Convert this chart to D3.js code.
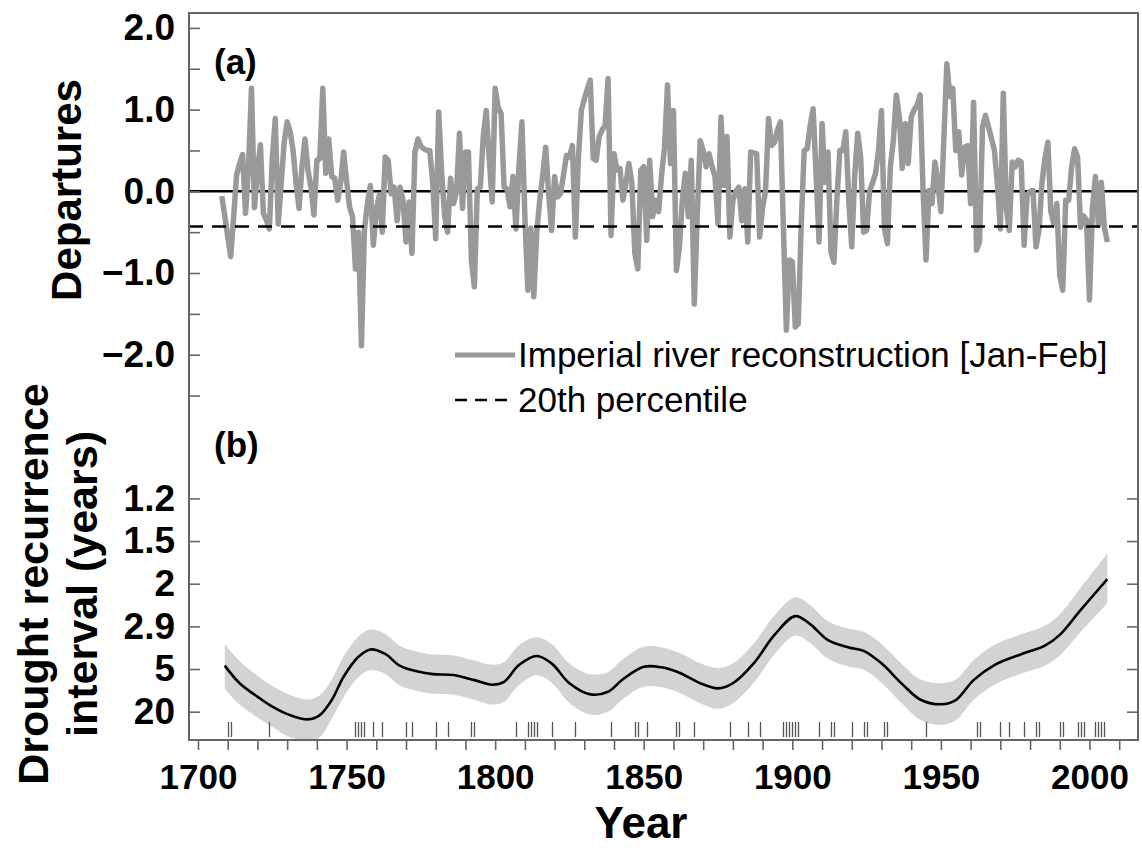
<!DOCTYPE html>
<html>
<head>
<meta charset="utf-8">
<script src="https://cdn.jsdelivr.net/npm/d3@7/dist/d3.min.js"></script>
<style>
  html, body { margin: 0; padding: 0; background: #fff; }
  svg { display: block; font-family: "Liberation Sans", Arial, Helvetica, sans-serif; }
</style>
</head>
<body>
<svg id="chart" width="1142" height="848"></svg>
<script>
// ---------------- DATA ----------------
// Panel (a): Imperial river reconstruction [Jan-Feb], annual departures, first year:
const startYear = 1708;
const departures = [
  -0.06, -0.30,                                                        // 1708-1709
  -0.55, -0.80, -0.31, 0.20, 0.34, 0.45, -0.27, 0.30, 1.26, -0.20,     // 1710s
  0.25, 0.57, -0.27, -0.35, -0.46, 0.40, 0.89, -0.40, 0.10, 0.60,      // 1720s
  0.85, 0.73, 0.50, 0.10, -0.21, 0.30, 0.64, 0.26, 0.05, -0.29,        // 1730s
  0.38, 0.40, 1.26, 0.22, 0.64, 0.18, 0.16, -0.11, 0.10, 0.48,         // 1740s
  0.13, -0.19, -0.31, -0.95, -0.50, -1.89, -0.48, -0.15, 0.07, -0.66,  // 1750s
  -0.23, -0.05, -0.50, 0.42, 0.38, -0.03, 0.05, -0.36, 0.05, -0.11,    // 1760s
  -0.62, -0.13, -0.76, 0.48, 0.64, 0.55, 0.52, 0.50, 0.50, 0.10,       // 1770s
  -0.58, 0.97, 0.22, -0.30, -0.50, 0.16, -0.15, 0.00, 0.71, -0.21,     // 1780s
  0.48, 0.48, -0.84, -1.17, 0.03, 0.05, 0.67, 0.99, 0.40, -0.13,       // 1790s
  1.26, 1.03, 0.95, 0.05, 0.03, -0.19, 0.18, -0.46, 0.30, 0.85,        // 1800s
  -0.31, -1.21, -0.45, -1.29, -0.50, -0.11, 0.20, 0.54, -0.03, -0.48,  // 1810s
  0.18, -0.07, -0.03, 0.20, 0.44, 0.42, 0.56, -0.56, 0.40, 0.99,       // 1820s
  1.13, 1.25, 1.36, 0.40, 0.38, 0.67, 0.75, 0.81, 1.38, -0.54,         // 1830s
  0.46, 0.26, 0.28, -0.11, 0.10, 0.34, 0.10, -0.76, -0.95, 0.26,       // 1840s
  0.30, -0.60, 0.38, -0.31, -0.11, -0.25, 0.20, 0.54, 1.30, 0.34,      // 1850s
  0.99, -0.97, -0.68, -0.10, 0.22, -0.31, 0.38, -1.38, -0.30, 0.62,    // 1860s
  0.50, 0.30, 0.46, 0.30, 0.18, -0.40, 0.91, 0.07, 0.67, -0.56,        // 1870s
  -0.11, 0.00, 0.05, -0.36, 0.03, -0.62, 0.48, 0.47, 0.46, -0.56,      // 1880s
  -0.20, 0.01, 0.89, 0.56, 0.60, 0.75, 0.85, -0.45, -1.70, -0.84,      // 1890s
  -0.86, -1.66, -1.62, -0.40, 0.50, 0.52, 0.80, 1.01, 0.20, -0.62,     // 1900s
  0.83, 0.11, 0.48, -0.74, -0.87, -0.10, 0.50, 0.50, 0.73, -0.11,      // 1910s
  -0.68, 0.20, 0.71, 0.42, -0.50, -0.48, 0.01, 0.10, 0.22, 0.50,       // 1920s
  0.99, -0.46, -0.64, 0.30, 0.62, 1.18, 0.91, 0.28, 0.83, 0.34,        // 1930s
  0.91, 1.00, 1.05, 1.18, 0.01, -0.84, 0.01, -0.15, 0.36, 0.10,        // 1940s
  -0.25, 0.65, 1.56, 1.16, 1.26, 0.50, 0.73, 0.20, 0.54, 0.56,         // 1950s
  -0.15, 1.09, -0.72, -0.62, 0.79, 0.93, 0.79, 0.65, 0.50, 0.10,       // 1960s
  -0.46, 1.20, -0.20, -0.48, 0.36, 0.30, 0.38, 0.36, -0.66, -0.05,     // 1970s
  0.00, 0.01, -0.68, -0.48, 0.10, 0.40, 0.60, -0.25, -0.40, -0.15,     // 1980s
  -1.03, -1.21, -0.11, -0.11, 0.30, 0.52, 0.42, -0.44, -0.30, -0.35,   // 1990s
  -1.33, -0.20, 0.18, -0.42, 0.11, -0.44, -0.62                        // 2000s
];
const percentile20 = -0.43;

// Panel (b): drought occurrence rate (probability) with confidence band
const rateYears = [1709, 1714, 1720, 1725, 1731, 1737, 1741, 1745, 1749, 1754, 1758, 1763, 1768, 1774, 1779, 1786, 1793, 1799, 1803, 1808, 1814, 1819, 1825, 1832, 1838, 1843, 1850, 1856, 1862, 1869, 1875, 1880, 1887, 1894, 1901, 1906, 1912, 1919, 1924, 1930, 1937, 1943, 1950, 1955, 1961, 1968, 1977, 1985, 1990, 1997, 2006];
const rate      = [0.212, 0.150, 0.103, 0.068, 0.038, 0.023, 0.038, 0.091, 0.173, 0.243, 0.269, 0.253, 0.211, 0.191, 0.182, 0.179, 0.161, 0.145, 0.155, 0.214, 0.246, 0.220, 0.150, 0.111, 0.120, 0.164, 0.208, 0.206, 0.187, 0.150, 0.132, 0.150, 0.220, 0.320, 0.386, 0.358, 0.302, 0.276, 0.264, 0.220, 0.147, 0.093, 0.076, 0.091, 0.161, 0.214, 0.252, 0.282, 0.320, 0.407, 0.516];
const rateLower = [0.130, 0.075, 0.030, -0.003, -0.040, -0.050, -0.040, 0.025, 0.102, 0.172, 0.196, 0.183, 0.142, 0.122, 0.113, 0.110, 0.092, 0.075, 0.085, 0.144, 0.178, 0.152, 0.081, 0.040, 0.050, 0.095, 0.138, 0.136, 0.117, 0.080, 0.060, 0.080, 0.152, 0.252, 0.318, 0.292, 0.236, 0.208, 0.198, 0.152, 0.078, 0.022, 0.003, 0.020, 0.091, 0.145, 0.184, 0.212, 0.248, 0.330, 0.431];
const rateUpper = [0.288, 0.228, 0.176, 0.140, 0.109, 0.093, 0.108, 0.162, 0.244, 0.314, 0.339, 0.324, 0.281, 0.260, 0.251, 0.248, 0.230, 0.215, 0.225, 0.284, 0.312, 0.288, 0.219, 0.182, 0.190, 0.234, 0.278, 0.276, 0.257, 0.220, 0.204, 0.220, 0.290, 0.388, 0.452, 0.425, 0.368, 0.342, 0.331, 0.288, 0.216, 0.164, 0.150, 0.163, 0.231, 0.285, 0.322, 0.352, 0.393, 0.485, 0.606];

// Drought years (rug)
const droughtYears = [1710, 1711, 1724, 1753, 1754, 1755, 1756, 1759, 1762, 1770, 1772, 1780, 1784, 1792, 1793,
  1807, 1811, 1812, 1813, 1814, 1819, 1827, 1839, 1847, 1848, 1851, 1861, 1862, 1867, 1879, 1885, 1889,
  1897, 1898, 1899, 1900, 1901, 1902, 1909, 1913, 1914, 1920, 1924, 1925, 1931, 1932, 1945,
  1962, 1963, 1970, 1973, 1978, 1982, 1983, 1990, 1991, 1996, 1997, 1998, 2002, 2003, 2004, 2005];

// Tick definitions
const xTickValues = d3.range(1700, 2011, 10);
const xLabelEvery = 50;
const aTickValues = [-2.5, -2.0, -1.5, -1.0, -0.5, 0.0, 0.5, 1.0, 1.5, 2.0];
const bTickProbs  = [0.05, 0.2, 0.35, 0.5, 0.65, 0.8];
const bTickLabels = ["20", "5", "2.9", "2", "1.5", "1.2"];

const legendLabels = ["Imperial river reconstruction [Jan-Feb]", "20th percentile"];

// ---------------- LAYOUT ----------------
const box = { left: 189, right: 1138, top: 13, bottom: 740 };
const svg = d3.select("#chart");

const x  = d3.scaleLinear().domain([1700, 2010]).range([198, 1119.2]);
const ya = d3.scaleLinear().domain([0, 1]).range([191.3, 109.6]);
const yb = d3.scaleLinear().domain([0.05, 0.8]).range([711.7, 498.4]);

const FONT = '"Liberation Sans", Arial, Helvetica, sans-serif';

svg.append("defs").append("clipPath").attr("id", "plotclip")
  .append("rect").attr("x", box.left).attr("y", box.top)
  .attr("width", box.right - box.left).attr("height", box.bottom - box.top);

// ---- Panel (b) band and curve ----
const bandData = rateYears.map((yr, i) => ({ yr, lo: rateLower[i], hi: rateUpper[i], p: rate[i] }));
const curve = d3.curveCatmullRom.alpha(0.5);

svg.append("path")
  .datum(bandData)
  .attr("clip-path", "url(#plotclip)")
  .attr("fill", "#d3d3d3")
  .attr("d", d3.area().x(d => x(d.yr)).y0(d => yb(d.lo)).y1(d => yb(d.hi)).curve(curve));

svg.append("path")
  .datum(bandData)
  .attr("fill", "none")
  .attr("stroke", "#000")
  .attr("stroke-width", 2.6)
  .attr("d", d3.line().x(d => x(d.yr)).y(d => yb(d.p)).curve(curve));

// rug
svg.append("g").selectAll("line").data(droughtYears).join("line")
  .attr("x1", d => Math.round(x(d)) + 0.5).attr("x2", d => Math.round(x(d)) + 0.5)
  .attr("y1", 722).attr("y2", 737)
  .attr("stroke", "#555").attr("stroke-width", 1.3);

// ---- Panel (a) ----
svg.append("line")
  .attr("x1", box.left).attr("x2", box.right)
  .attr("y1", ya(0)).attr("y2", ya(0))
  .attr("stroke", "#000").attr("stroke-width", 2.4);

const aData = departures.map((v, i) => ({ yr: startYear + i, v }));
svg.append("path")
  .datum(aData)
  .attr("fill", "none")
  .attr("stroke", "#999999")
  .attr("stroke-width", 5.5)
  .attr("stroke-linejoin", "round")
  .attr("d", d3.line().x(d => x(d.yr)).y(d => ya(d.v)));

svg.append("line")
  .attr("x1", box.left).attr("x2", box.right)
  .attr("y1", ya(percentile20)).attr("y2", ya(percentile20))
  .attr("stroke", "#000").attr("stroke-width", 2.4)
  .attr("stroke-dasharray", "14,9");

// ---- Axes ----
const axisColor = "#666";

const gA = svg.append("g").attr("transform", `translate(${box.left},0)`)
  .call(d3.axisLeft(ya).tickValues(aTickValues).tickSize(-11).tickPadding(14)
    .tickFormat(d => Number.isInteger(d) ? d3.format(".1f")(d) : ""));
const gB = svg.append("g").attr("transform", `translate(${box.left},0)`)
  .call(d3.axisLeft(yb).tickValues(bTickProbs).tickSize(-11).tickPadding(14)
    .tickFormat((d, i) => bTickLabels[i]));
const gBR = svg.append("g").attr("transform", `translate(${box.right},0)`)
  .call(d3.axisRight(yb).tickValues(bTickProbs).tickSize(-11).tickFormat(""));
const gX = svg.append("g").attr("transform", `translate(0,${box.bottom})`)
  .call(d3.axisBottom(x).tickValues(xTickValues).tickSize(10).tickPadding(14)
    .tickFormat(d => d % xLabelEvery === 0 ? String(d) : ""));

[gA, gB, gBR, gX].forEach(g => {
  g.select(".domain").remove();
  g.selectAll(".tick line").attr("stroke", axisColor).attr("stroke-width", 1.6);
  g.selectAll(".tick text").attr("fill", "#000").attr("font-family", FONT)
    .attr("font-weight", "bold").attr("font-size", 37);
});
gX.selectAll(".tick text").attr("font-size", 35);

// box
svg.append("rect")
  .attr("x", box.left).attr("y", box.top)
  .attr("width", box.right - box.left).attr("height", box.bottom - box.top)
  .attr("fill", "none").attr("stroke", axisColor).attr("stroke-width", 2);

// ---- Text labels ----
svg.append("text").attr("x", 214).attr("y", 74)
  .attr("font-family", FONT).attr("font-weight", "bold").attr("font-size", 35).text("(a)");
svg.append("text").attr("x", 214).attr("y", 457)
  .attr("font-family", FONT).attr("font-weight", "bold").attr("font-size", 35).text("(b)");

svg.append("text").attr("transform", "translate(81,190) rotate(-90)")
  .attr("text-anchor", "middle").attr("font-family", FONT).attr("font-weight", "bold")
  .attr("font-size", 42).text("Departures");
svg.append("text").attr("transform", "translate(48,584) rotate(-90)")
  .attr("text-anchor", "middle").attr("font-family", FONT).attr("font-weight", "bold")
  .attr("font-size", 43).text("Drought recurrence");
svg.append("text").attr("transform", "translate(97,584) rotate(-90)")
  .attr("text-anchor", "middle").attr("font-family", FONT).attr("font-weight", "bold")
  .attr("font-size", 43).text("interval (years)");

svg.append("text").attr("x", 641).attr("y", 838)
  .attr("text-anchor", "middle").attr("font-family", FONT).attr("font-weight", "bold")
  .attr("font-size", 44).text("Year");

// ---- Legend ----
const lg = svg.append("g");
lg.append("line").attr("x1", 455).attr("x2", 515).attr("y1", 355).attr("y2", 355)
  .attr("stroke", "#999999").attr("stroke-width", 5);
lg.append("text").attr("x", 518).attr("y", 367)
  .attr("font-family", FONT).attr("font-size", 35).text(legendLabels[0]);
lg.append("line").attr("x1", 455).attr("x2", 515).attr("y1", 400).attr("y2", 400)
  .attr("stroke", "#000").attr("stroke-width", 2.4).attr("stroke-dasharray", "12,8");
lg.append("text").attr("x", 518).attr("y", 412)
  .attr("font-family", FONT).attr("font-size", 35).text(legendLabels[1]);
</script>
</body>
</html>
